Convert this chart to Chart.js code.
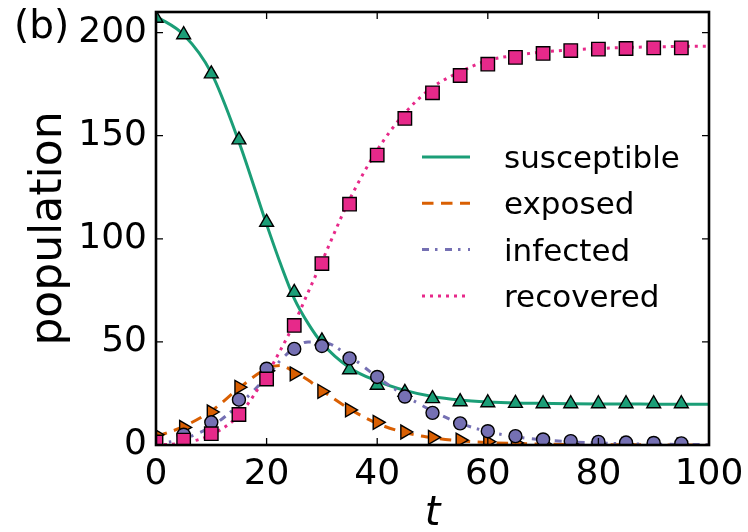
<!DOCTYPE html>
<html>
<head>
<meta charset="utf-8">
<script src="https://cdn.jsdelivr.net/npm/chart.js@4.4.1/dist/chart.umd.min.js"></script>
<style>
  body { margin: 0; background: #fff; }
  #wrap { width: 748px; height: 532px; }
</style>
</head>
<body>
<div id="wrap"><canvas id="seirChart" width="748" height="532"></canvas></div>
<script>
// simulation markers, every 5 time units
var tMarks = [0, 5, 10, 15, 20, 25, 30, 35, 40, 45, 50, 55, 60, 65, 70, 75, 80, 85, 90, 95];
var sMarks = [207, 199, 180, 148, 108, 74, 50.5, 36.5, 29, 25.5, 22.5, 21, 20.5, 20.2, 20, 20, 20, 20, 20, 20];
var eMarks = [5, 8.5, 16, 28, 36, 34.5, 26, 17, 11, 6.3, 3.7, 2.4, 1.6, 1, 0.6, 0.4, 0.3, 0.2, 0.1, 0.1];
var iMarks = [0.5, 5, 11, 22, 37, 46.6, 48, 42, 33, 23.5, 15.6, 10.5, 6.7, 4.3, 2.7, 1.9, 1.5, 1.2, 1, 0.8];
var rMarks = [1.5, 2.4, 5.5, 14.8, 32, 58, 88, 116.8, 140.6, 158.4, 170.8, 179.2, 184.7, 188, 189.9, 191.3, 192, 192.3, 192.6, 192.6];

// model curves
var tLine = [0, 5, 10, 15, 20, 22.5, 25, 27.5, 30, 35, 40, 45, 50, 55, 60, 65, 70, 75, 80, 85, 90, 95, 100];
var sLine = [208, 199, 180.5, 147, 107, 88, 71, 59, 49.5, 37.5, 31, 26.5, 23.5, 21.8, 20.9, 20.4, 20.2, 20, 19.9, 19.9, 19.8, 19.8, 19.8];
var eLine = [4, 9, 16.5, 27.5, 37, 38.5, 35.5, 31.5, 26.5, 17.5, 10.5, 6, 3.5, 2, 1.2, 0.7, 0.4, 0.25, 0.15, 0.1, 0.05, 0.03, 0.02];
var iLine = [0.5, 3, 9, 19.5, 33, 41, 47, 50, 50, 43, 33, 24, 16.5, 10.5, 6.5, 4, 2.5, 1.5, 1, 0.6, 0.4, 0.25, 0.15];
var rLine = [0, 1, 5, 14.5, 34, 46, 59, 74, 89, 119, 143, 161, 173.5, 181, 186.5, 189, 190.6, 191.6, 192.3, 192.8, 193.1, 193.3, 193.4];

var xTicks = [0, 20, 40, 60, 80, 100];
var yTicks = [0, 50, 100, 150, 200];

var FONT = '"DejaVu Sans", "Liberation Sans", sans-serif';
var GREEN = '#1b9e77', ORANGE = '#d95f02', PURPLE = '#7570b3', PINK = '#e7298a';

var pts = function(xs, ys) {
    return xs.map(function(x, i) { return { x: x, y: ys[i] }; });
};

// 曲线
var lineSet = function(label, ys, color, dash, order) {
    return {
        label: label, data: pts(tLine, ys), showLine: true, legendLine: true,
        borderColor: color, borderWidth: 3, borderDash: dash,
        pointRadius: 0, cubicInterpolationMode: 'monotone', clip: 0, order: order
    };
};

// 散点
var markSet = function(label, ys, color, style, radius, rotation, order) {
    return {
        label: label, data: pts(tMarks, ys), showLine: false,
        backgroundColor: color, borderColor: '#000', borderWidth: 1.4,
        pointStyle: style, pointRadius: radius, rotation: rotation, clip: 0, order: order
    };
};

// frame, inward ticks, panel letter
var framePlugin = {
    id: 'frame',
    afterDatasetsDraw: function(chart) {
        var ctx = chart.ctx, a = chart.chartArea, xs = chart.scales.x, ys = chart.scales.y;
        ctx.save();
        ctx.strokeStyle = '#000';
        ctx.lineWidth = 1.3;
        ctx.beginPath();
        xs.ticks.forEach(function(t) {
            var px = xs.getPixelForValue(t.value);
            ctx.moveTo(px, a.bottom); ctx.lineTo(px, a.bottom - 7);
            ctx.moveTo(px, a.top); ctx.lineTo(px, a.top + 7);
        });
        ys.ticks.forEach(function(t) {
            var py = ys.getPixelForValue(t.value);
            ctx.moveTo(a.left, py); ctx.lineTo(a.left + 7, py);
            ctx.moveTo(a.right, py); ctx.lineTo(a.right - 7, py);
        });
        ctx.stroke();
        ctx.lineWidth = 2.6;
        ctx.strokeRect(a.left, a.top, a.right - a.left, a.bottom - a.top);
        ctx.fillStyle = '#000';
        ctx.font = '39px ' + FONT;
        ctx.textBaseline = 'alphabetic';
        ctx.fillText('(b)', 14, 38);
        ctx.restore();
    }
};

// legend inside the axes, lines only
var legendPlugin = {
    id: 'insideLegend',
    afterDraw: function(chart) {
        var ctx = chart.ctx, a = chart.chartArea;
        var x0 = a.left + 266, y0 = a.top + 145, dy = 46.3;
        chart.data.datasets.filter(function(d) { return d.legendLine; }).forEach(function(d, i) {
            var y = y0 + i * dy;
            ctx.save();
            ctx.strokeStyle = d.borderColor;
            ctx.lineWidth = d.borderWidth;
            ctx.setLineDash(d.borderDash || []);
            ctx.beginPath();
            ctx.moveTo(x0, y);
            ctx.lineTo(x0 + 48, y);
            ctx.stroke();
            ctx.setLineDash([]);
            ctx.fillStyle = '#000';
            ctx.font = '31px ' + FONT;
            ctx.textBaseline = 'alphabetic';
            ctx.fillText(d.label, x0 + 82, y + 11);
            ctx.restore();
        });
    }
};

var ctx = document.getElementById('seirChart').getContext('2d');
window.seirChart = new Chart(ctx, {
    type: 'scatter',
    data: {
        datasets: [
            markSet('S sim', sMarks, GREEN, 'triangle', 8, 0, 3),
            markSet('E sim', eMarks, ORANGE, 'triangle', 8, 90, 2),
            markSet('I sim', iMarks, PURPLE, 'circle', 6.5, 0, 1),
            markSet('R sim', rMarks, PINK, 'rect', 9.5, 0, 0),
            lineSet('susceptible', sLine, GREEN, [], 7),
            lineSet('exposed', eLine, ORANGE, [11.5, 7.5], 6),
            lineSet('infected', iLine, PURPLE, [7, 6, 2.5, 7.5], 5),
            lineSet('recovered', rLine, PINK, [3, 5], 4)
        ]
    },
    options: {
        responsive: false,
        animation: false,
        events: [],
        layout: { padding: { top: 12, right: 39, left: 0, bottom: 0 } },
        plugins: {
            legend: { display: false },
            tooltip: { enabled: false }
        },
        scales: {
            x: {
                type: 'linear', min: 0, max: 100,
                grid: { display: false, drawTicks: false },
                border: { display: false },
                afterBuildTicks: function(s) { s.ticks = xTicks.map(function(v) { return { value: v }; }); },
                afterFit: function(s) { s.height = 87; s.paddingLeft = 0; s.paddingRight = 0; },
                ticks: { color: '#000', font: { family: FONT, size: 36 }, padding: 8, maxRotation: 0, autoSkip: false },
                title: {
                    display: true, text: 't', color: '#000',
                    font: { family: FONT, size: 40, style: 'italic', lineHeight: 0.8 },
                    padding: { top: 0, bottom: 1 }
                }
            },
            y: {
                type: 'linear', min: 0, max: 210,
                grid: { display: false, drawTicks: false },
                border: { display: false },
                afterBuildTicks: function(s) { s.ticks = yTicks.map(function(v) { return { value: v }; }); },
                afterFit: function(s) { s.width = 156; s.paddingTop = 0; s.paddingBottom = 0; },
                ticks: { color: '#000', font: { family: FONT, size: 36 }, padding: 9, autoSkip: false },
                title: {
                    display: true, text: 'population', color: '#000',
                    font: { family: FONT, size: 44 },
                    padding: { top: 23, bottom: 0 }
                }
            }
        }
    },
    plugins: [framePlugin, legendPlugin]
});
</script>
</body>
</html>
